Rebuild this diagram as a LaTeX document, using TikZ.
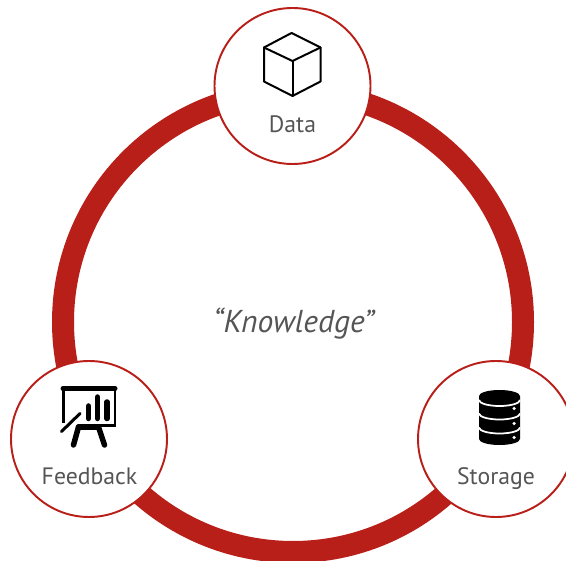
\documentclass[tikz,border=0pt]{standalone}
\usepackage{fontspec}
\setmainfont{PT Sans}
\definecolor{ringRed}{HTML}{B91F19}
\definecolor{labelGrey}{HTML}{555555}
\tikzset{
  ringNode/.style={circle, draw=ringRed, line width=0.44cm, minimum size=9.2cm, outer sep=0pt},
  stationNode/.style={circle, draw=ringRed, fill=white, line width=1.1pt, minimum size=3.12cm, outer sep=0pt},
  stationLabel/.style={text=labelGrey, font=\fontsize{13.5}{16}\selectfont, inner sep=0pt, anchor=base},
  iconLine/.style={line width=0.04cm, line join=round, line cap=round},
  iconBold/.style={line width=0.11cm, line cap=round},
  dbGap/.style={white, line width=0.035cm}
}

\begin{document}
\begin{tikzpicture}
  \useasboundingbox (0,0) rectangle (11.32,11.2);

  \node[ringNode] (RING) at (5.86,4.76) {};
  \node[text=labelGrey, font=\fontsize{18}{20}\selectfont\itshape, inner sep=0pt, anchor=base] (KNOW) at (5.87,4.55) {``Knowledge''};

  \node[stationNode] (DATA) at (5.85,9.48) {};
  \node[stationNode] (FEED) at (1.78,2.42) {};
  \node[stationNode] (STOR) at (9.92,2.42) {};

  \node[stationLabel] (DATALBL) at (5.85,8.54) {Data};
  \node[stationLabel] (FEEDLBL) at (1.79,1.52) {Feedback};
  \node[stationLabel] (STORLBL) at (9.92,1.52) {Storage};

  % cube
  \draw[iconLine] (5.83,10.54) -- (6.41,10.25) -- (6.41,9.57) -- (5.85,9.28) -- (5.28,9.57) -- (5.28,10.25) -- cycle;
  \draw[iconLine] (5.28,10.25) -- (5.85,9.98) -- (6.41,10.25);
  \draw[iconLine] (5.85,9.98) -- (5.85,9.28);

  % board
  \draw[line width=0.1cm, line cap=round] (1.26,3.43) -- (2.30,3.43);
  \draw[line width=0.045cm] (1.27,3.40) -- (1.27,2.75);
  \draw[line width=0.045cm] (2.30,3.40) -- (2.30,2.69) -- (1.56,2.69);
  \draw[iconBold] (1.77,2.83) -- (1.77,3.08);
  \draw[iconBold] (1.95,2.83) -- (1.95,3.26);
  \draw[iconBold] (2.14,2.83) -- (2.14,3.16);
  \draw[line width=0.06cm, line cap=round] (1.23,2.57) -- (1.6,2.93);
  \draw[iconBold] (1.57,2.66) -- (1.47,2.30);
  \draw[iconBold] (1.97,2.66) -- (2.09,2.30);
  \draw[iconBold] (1.57,2.66) -- (1.97,2.66);

  % database
  \fill (9.58,3.28) -- (9.58,2.42) arc[start angle=180, end angle=360, x radius=0.41, y radius=0.12] -- (10.40,3.28) arc[start angle=0, end angle=180, x radius=0.41, y radius=0.12];
  \draw[dbGap] (9.58,3.20) arc[start angle=180, end angle=360, x radius=0.41, y radius=0.12];
  \draw[dbGap] (9.58,2.93) arc[start angle=180, end angle=360, x radius=0.41, y radius=0.12];
  \draw[dbGap] (9.58,2.65) arc[start angle=180, end angle=360, x radius=0.41, y radius=0.12];
  \fill[white] (10.28,3.03) circle (0.035);
  \fill[white] (10.28,2.73) circle (0.035);
  \fill[white] (10.28,2.45) circle (0.035);
\end{tikzpicture}
\end{document}
